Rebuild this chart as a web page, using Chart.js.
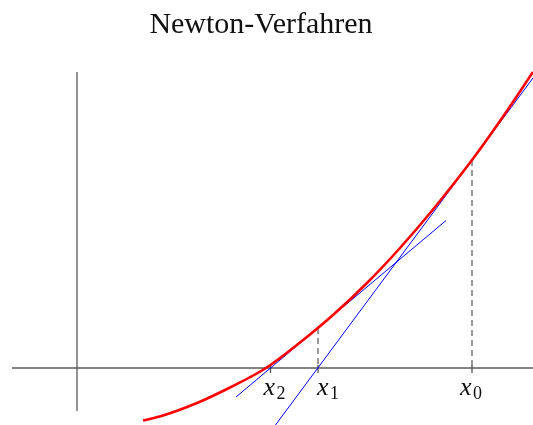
<!DOCTYPE html>
<html>
<head>
<meta charset="utf-8">
<script src="https://cdn.jsdelivr.net/npm/chart.js@4/dist/chart.umd.min.js"></script>
<style>
  html, body { margin: 0; padding: 0; background: #fff; }
  #wrap { width: 533px; height: 425px; }
</style>
</head>
<body>
<div id="wrap"><canvas id="c" width="533" height="425"></canvas></div>
<script>
// ---- data (x = 0 at the vertical axis, y = 0 at the horizontal axis) ----
const titleText = "Newton-Verfahren";
const curveX = [1.32, 1.72, 2.40, 3.06, 3.78, 4.46, 5.12, 5.80, 6.46, 7.12, 7.90, 8.46, 9.12];
const curveY = [-1.05, -0.95, -0.70, -0.39, 0.00, 0.51, 1.06, 1.70, 2.40, 3.17, 4.16, 4.94, 5.92];
const tangent0X = [3.97, 9.12];
const tangent0Y = [-1.14, 5.80];
const tangent1X = [3.18, 7.38];
const tangent1Y = [-0.58, 2.95];
const iterX = [7.90, 4.82, 3.87];
const iterFY = [4.16, 0.80, 0.00];
const iterLabels = ["0", "1", "2"];
const xAxisX = [-1.30, 9.12];
const yAxisY = [-0.86, 5.92];
const tickTop = 0.06, tickBottom = -0.10;

const pts = (xs, ys) => xs.map((x, i) => ({ x: x, y: ys[i] }));

const datasets = [];
datasets.push({ data: pts(curveX, curveY), borderColor: '#ff0000', borderWidth: 2.6,
  cubicInterpolationMode: 'monotone', order: 0 });
datasets.push({ data: pts(tangent0X, tangent0Y), borderColor: '#0000ff', borderWidth: 1, order: 1 });
datasets.push({ data: pts(tangent1X, tangent1Y), borderColor: '#0000ff', borderWidth: 1, order: 1 });
iterX.forEach((x, i) => {
  if (iterFY[i] > 0) {
    datasets.push({ data: [{ x: x, y: iterFY[i] }, { x: x, y: 0 }], borderColor: '#666666',
      borderWidth: 1.3, borderDash: [6, 4], order: 2 });
  }
  datasets.push({ data: [{ x: x, y: tickTop }, { x: x, y: tickBottom }], borderColor: '#555555',
    borderWidth: 1.3, order: 3 });
});
datasets.push({ data: [{ x: xAxisX[0], y: 0 }, { x: xAxisX[1], y: 0 }], borderColor: '#5a5a5a', borderWidth: 1.3, order: 4 });
datasets.push({ data: [{ x: 0, y: yAxisY[0] }, { x: 0, y: yAxisY[1] }], borderColor: '#5a5a5a', borderWidth: 1.3, order: 4 });
datasets.forEach(d => { d.pointRadius = 0; d.fill = false; d.tension = d.tension || 0; });

const labelOffsets = [-12, -1, -7];
const textPlugin = {
  id: 'texts',
  afterDatasetsDraw(chart) {
    const ctx = chart.ctx, xs = chart.scales.x, ys = chart.scales.y;
    const py = ys.getPixelForValue(0);
    ctx.save();
    ctx.fillStyle = '#111';
    ctx.textBaseline = 'alphabetic';
    // title
    ctx.textAlign = 'center';
    ctx.font = '30px "Liberation Serif"';
    ctx.fillText(titleText, 261, 32.5);
    // iterate labels
    ctx.textAlign = 'left';
    iterX.forEach((x, i) => {
      const px = xs.getPixelForValue(x) + labelOffsets[i];
      ctx.font = 'italic 26px "Liberation Serif"';
      ctx.fillText('x', px, py + 27);
      const w = ctx.measureText('x').width;
      ctx.font = '18px "Liberation Serif"';
      ctx.fillText(iterLabels[i], px + w + 1.5, py + 30.5);
    });
    ctx.restore();
  }
};

new Chart(document.getElementById('c'), {
  type: 'line',
  data: { datasets: datasets },
  options: {
    responsive: false,
    animation: false,
    layout: { padding: { top: 50, left: 0, right: 0, bottom: 0 } },
    scales: {
      x: { type: 'linear', display: false, min: -1.54, max: 9.12 },
      y: { type: 'linear', display: false, min: -1.14, max: 6.36 }
    },
    plugins: {
      legend: { display: false },
      tooltip: { enabled: false },
      title: { display: false }
    }
  },
  plugins: [textPlugin]
});
</script>
</body>
</html>
